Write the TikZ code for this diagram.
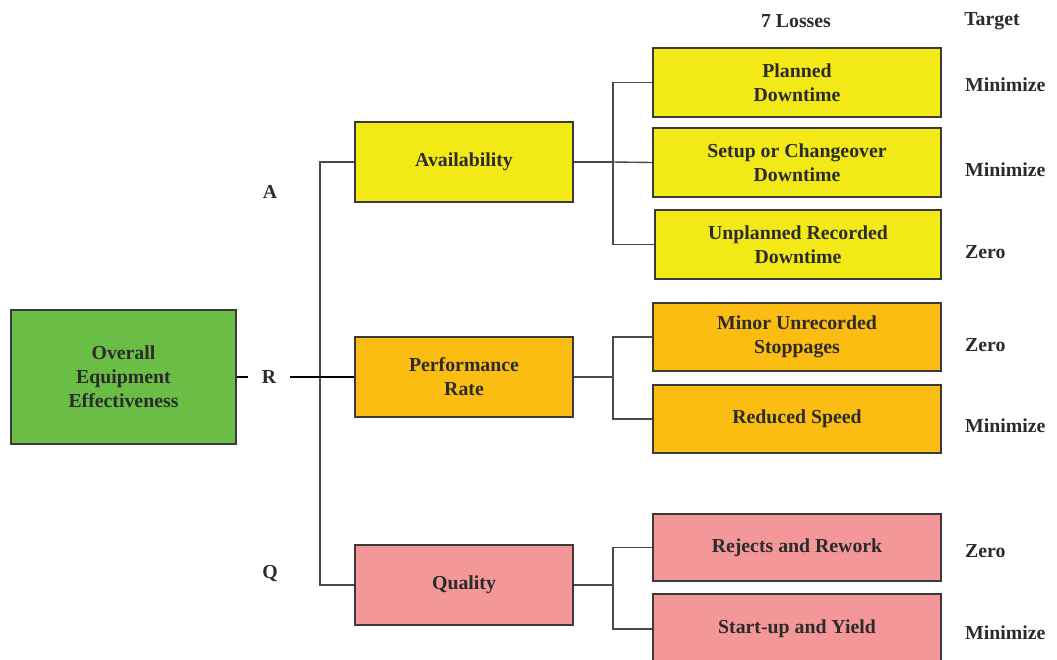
\documentclass[tikz,border=0pt]{standalone}
\usepackage{fontspec}
\setmainfont{Liberation Serif}
\begin{document}
\begin{tikzpicture}[x=1pt,y=-1pt,
  every node/.style={font=\fontsize{19.8}{24}\selectfont\bfseries, text=txtgray, inner sep=0pt},
  box/.style={draw=boxedge, line width=1.3pt, align=center},
  conn/.style={draw=lnkgray, line width=1.4pt},
  target/.style={anchor=west},
]
\definecolor{txtgray}{HTML}{2B2B2B}
\definecolor{boxedge}{HTML}{3A3A3A}
\definecolor{lnkgray}{HTML}{4A4A4A}
\definecolor{oeegreen}{HTML}{6ABD45}
\definecolor{availyel}{HTML}{F2E916}
\definecolor{perforg}{HTML}{FBBD12}
\definecolor{qualpink}{HTML}{F49799}

\useasboundingbox (0,0) rectangle (1057,659);
\clip (0,0) rectangle (1057,659);

% main measure
\node[box, fill=oeegreen, minimum width=225pt, minimum height=134pt] (oee) at (123.5,377)
  {Overall\\Equipment\\Effectiveness};

% three factors
\node[box, fill=availyel, minimum width=218pt, minimum height=80pt] (avail) at (464,162) {Availability};
\node[box, fill=perforg, minimum width=218pt, minimum height=80pt] (perf) at (464,377) {Performance\\Rate};
\node[box, fill=qualpink, minimum width=218pt, minimum height=80pt] (qual) at (464,585) {Quality};

% seven losses
\node[box, fill=availyel, minimum width=288pt, minimum height=69pt] (plan) at (797,82.5) {Planned\\Downtime};
\node[box, fill=availyel, minimum width=288pt, minimum height=69pt] (setup) at (797,162.5) {Setup or Changeover\\Downtime};
\node[box, fill=availyel, minimum width=286pt, minimum height=69pt] (unpl) at (798,244.5) {Unplanned Recorded\\Downtime};
\node[box, fill=perforg, minimum width=288pt, minimum height=68pt] (minor) at (797,337) {Minor Unrecorded\\Stoppages};
\node[box, fill=perforg, minimum width=288pt, minimum height=68pt] (speed) at (797,419) {Reduced Speed};
\node[box, fill=qualpink, minimum width=288pt, minimum height=67pt] (rej) at (797,547.5) {Rejects and Rework};
\node[box, fill=qualpink, minimum width=288pt, minimum height=70pt] (start) at (797,629) {Start-up and Yield};

% column headings
\node (hloss) at (796,21) {7 Losses};
\node (htarget) at (992,21) {Target};

% factor letters
\node (la) at (270,192) {A};
\node[minimum width=42pt, minimum height=20pt] (lr) at (269,377) {R};
\node (lq) at (270,574) {Q};

% targets
\node[target] (t1) at (965,85) {Minimize};
\node[target] (t2) at (965,170) {Minimize};
\node[target] (t3) at (965,252) {Zero};
\node[target] (t4) at (965,345) {Zero};
\node[target] (t5) at (965,426) {Minimize};
\node[target] (t6) at (965,551) {Zero};
\node[target] (t7) at (965,633) {Minimize};

% junction points
\coordinate (jl) at (320,377);
\coordinate (ja) at (613,162);
\coordinate (jp) at (613,377);
\coordinate (jq) at (613,585);

% OEE to the three factors
\draw[conn] (avail.west) -| (jl) |- (qual.west);
\draw[line width=2.4pt, black] (oee.east) -- (lr.west);
\draw[line width=2.4pt, black] (lr.east) -- (perf.west);

% availability losses
\draw[conn] (avail.east) -- (ja);
\draw[conn] (plan.west) -| (ja) |- (unpl.west);
\draw[conn] (ja) -- (setup.west);

% performance losses
\draw[conn] (perf.east) -- (jp);
\draw[conn] (minor.west) -| (jp) |- (speed.west);

% quality losses
\draw[conn] (qual.east) -- (jq);
\draw[conn] (rej.west) -| (jq) |- (start.west);
\end{tikzpicture}
\end{document}
